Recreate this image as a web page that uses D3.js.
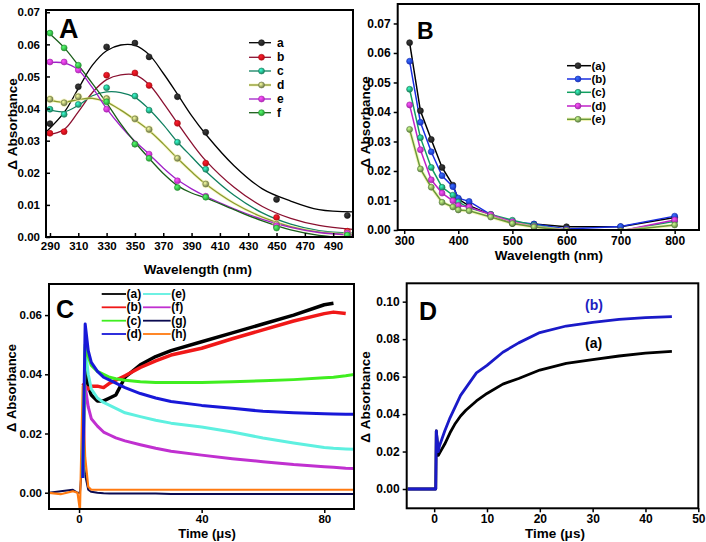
<!DOCTYPE html>
<html><head><meta charset="utf-8">
<script src="https://cdn.jsdelivr.net/npm/d3@7"></script>
<style>
body{margin:0;background:#fff}
text{font-family:"Liberation Sans",Arial,sans-serif;font-weight:bold;fill:#000}
</style>
</head><body>
<svg id="chart" width="706" height="542"></svg>
<script>
// ---------------- Panel A data ----------------
const aWl = [290,300,310,330,350,360,380,400,450,500];
const aPts_a = [0.0353,null,0.0468,0.0592,0.0604,0.0561,0.0437,0.0326,0.0117,0.0067];
const aPts_b = [0.0323,0.0328,null,0.0504,0.0511,0.0472,0.0354,0.0230,0.0061,0.0018];
const aPts_c = [0.0398,0.0382,0.0413,0.0465,0.0439,0.0395,0.0295,0.0211,0.0033,0.0008];
const aPts_d = [0.0429,0.0418,0.0437,0.0431,0.0368,0.0335,0.0245,0.0165,0.0040,0.0010];
const aPts_e = [0.0545,0.0545,0.0520,0.0398,0.0290,0.0258,0.0175,0.0127,0.0035,0.0012];
const aPts_f = [0.0635,0.0589,0.0535,0.0421,0.0289,0.0245,0.0154,0.0124,0.0028,0.0006];
const aFitWl = [288,300,310,320,330,340,350,360,370,380,390,400,420,440,460,480,504];
const aFit_a = [.0330,.0388,.0462,.0535,.0580,.0598,.0597,.0568,.0510,.0445,.0378,.0320,.0222,.0150,.0112,.0085,.0078];
const aFit_b = [.0318,.0335,.0390,.0450,.0490,.0505,.0505,.0475,.0418,.0355,.0293,.0238,.0155,.0095,.0058,.0036,.0024];
const aFit_c = [.0398,.0390,.0410,.0440,.0452,.0450,.0435,.0398,.0350,.0296,.0250,.0205,.0130,.0075,.0040,.0020,.0012];
const aFit_d = [.0428,.0420,.0428,.0432,.0420,.0395,.0365,.0332,.0290,.0245,.0203,.0165,.0105,.0062,.0032,.0015,.0007];
const aFit_e = [.0543,.0542,.0520,.0465,.0400,.0345,.0298,.0258,.0215,.0178,.0150,.0127,.0088,.0055,.0030,.0014,.0006];
const aFit_f = [.0640,.0590,.0535,.0478,.0418,.0352,.0295,.0245,.0198,.0160,.0137,.0122,.0085,.0050,.0022,.0005,-.0003];
const aLabels = ["a","b","c","d","e","f"];
const aXTicks = [290,310,330,350,370,390,410,430,450,470,490];
const aYTicks = [0,0.01,0.02,0.03,0.04,0.05,0.06,0.07];

// ---------------- Panel B data ----------------
const bWl = [310,330,350,370,390,400,420,460,500,540,600,700,800];
const bPts_a = [0.0635,0.0404,0.0307,0.0212,0.0152,0.0105,0.0082,0.0052,0.0022,0.0020,0.0011,0.0011,0.0042];
const bPts_b = [0.0572,0.0365,0.0265,0.0184,0.0147,0.0108,0.0097,0.0052,0.0028,0.0020,0.0003,0.0012,0.0047];
const bPts_c = [0.0477,0.0313,0.0212,0.0145,0.0118,0.0095,0.0075,0.0053,0.0033,0.0016,0.0000,-0.0003,0.0030];
const bPts_d = [0.0424,0.0272,0.0170,0.0125,0.0099,0.0083,0.0078,0.0052,0.0028,0.0012,0.0000,-0.0003,0.0034];
const bPts_e = [0.0341,0.0207,0.0145,0.0094,0.0078,0.0068,0.0065,0.0044,0.0022,0.0010,-0.0002,-0.0003,0.0017];
const bLabels = ["(a)","(b)","(c)","(d)","(e)"];
const bXTicks = [300,400,500,600,700,800];
const bYTicks = [0,0.01,0.02,0.03,0.04,0.05,0.06,0.07];

// ---------------- Panel C data ----------------
const cTimes = [-10,-6,-2,-0.5,0.3,1.2,2,3,4,6,8,10,12,15,20,25,30,40,50,60,70,80,83,87,90];
const cTr_a = [null,null,null,null,null,null,0.042,0.036,0.033,0.031,0.031,0.032,0.033,0.039,0.0432,0.046,0.048,0.051,0.054,0.057,0.060,0.0635,0.064,null,null];
const cTr_b = [null,null,null,null,null,0.037,0.036,0.035,0.036,0.036,0.0355,0.037,0.038,0.0395,0.0423,0.0445,0.0465,0.0488,0.052,0.055,0.058,0.0605,0.061,0.0605,null];
const cTr_c = [null,null,null,null,null,0.005,0.050,0.046,0.043,0.041,0.040,0.039,0.0385,0.038,0.0375,0.0372,0.0372,0.0372,0.0375,0.0378,0.0382,0.0388,0.039,0.0395,0.040];
const cTr_d = [null,null,null,null,null,0.005,0.057,0.048,0.044,0.041,0.039,0.038,0.037,0.0355,0.0335,0.032,0.0308,0.0295,0.0285,0.0275,0.027,0.0267,0.0266,0.0265,0.0265];
const cTr_e = [null,null,null,null,null,0.005,0.049,0.040,0.035,0.032,0.0305,0.0295,0.0285,0.027,0.0257,0.0245,0.0235,0.0222,0.0205,0.0185,0.0168,0.0153,0.015,0.0148,0.0147];
const cTr_f = [null,null,null,null,null,0.005,0.036,0.029,0.025,0.0225,0.0205,0.0195,0.0185,0.0175,0.0162,0.015,0.014,0.0127,0.0115,0.0105,0.0095,0.0088,0.0086,0.0083,0.0082];
const cTr_g = [0.000,0.0005,0.001,0.000,0.000,0.012,0.006,0.001,0.0003,0.000,-0.0002,-0.0003,-0.0003,-0.0003,-0.0003,-0.0003,-0.0004,-0.0004,-0.0004,-0.0004,-0.0004,-0.0004,-0.0004,-0.0004,-0.0004];
const cTr_h = [0.000,-0.0005,0.0005,0.000,-0.006,0.036,0.012,0.002,0.001,0.001,0.001,0.001,0.001,0.001,0.001,0.001,0.001,0.001,0.001,0.001,0.001,0.001,0.001,0.001,0.001];
const cLabels = ["(a)","(b)","(c)","(d)","(e)","(f)","(g)","(h)"];
const cXTicks = [0,40,80];
const cYTicks = [0,0.02,0.04,0.06];

// ---------------- Panel D data ----------------
const dTimes = [-5,-2,0,0.3,0.4,0.8,1,2,3,4,5,6,8,10,13,16,20,25,30,35,40,45];
const dTr_a = [0,0,0,0,0.031,0.018,0.019,0.024,0.030,0.035,0.039,0.042,0.047,0.051,0.056,0.059,0.0635,0.067,0.069,0.071,0.0725,0.0735];
const dTr_b = [0,0,0,0,0.031,0.020,0.023,0.031,0.038,0.044,0.050,0.054,0.062,0.066,0.073,0.078,0.0835,0.087,0.089,0.0905,0.0915,0.092];
const dLabels = ["(a)","(b)"];
const dXTicks = [0,10,20,30,40,50];
const dYTicks = [0,0.02,0.04,0.06,0.08,0.10];

// ---------------- Drawing ----------------
const svg = d3.select("#chart");
svg.append("rect").attr("width",706).attr("height",542).attr("fill","#fff");
const defs = svg.append("defs");
let gradN = 0;
function ball(color){
  const id = "g"+(gradN++);
  const gr = defs.append("radialGradient").attr("id",id).attr("cx","38%").attr("cy","35%").attr("r","65%");
  gr.append("stop").attr("offset","0%").attr("stop-color",d3.color(color).brighter(1.6));
  gr.append("stop").attr("offset","100%").attr("stop-color",d3.color(color).darker(0.6));
  return `url(#${id})`;
}

function panel(o){
  const x = d3.scaleLinear().domain(o.xd).range([o.l,o.r]);
  const y = d3.scaleLinear().domain(o.yd).range([o.b,o.t]);
  const cid = "clip"+o.name;
  defs.append("clipPath").attr("id",cid).append("rect")
    .attr("x",o.l).attr("y",o.t).attr("width",o.r-o.l).attr("height",o.b-o.t);
  const g = svg.append("g");
  const plot = g.append("g").attr("clip-path",`url(#${cid})`);
  const xa = g.append("g").attr("transform",`translate(0,${o.b})`)
    .call(d3.axisBottom(x).tickValues(o.xt).tickSize(o.ts).tickPadding(o.xpad).tickFormat(d3.format("d")));
  const ya = g.append("g").attr("transform",`translate(${o.l},0)`)
    .call(d3.axisLeft(y).tickValues(o.yt).tickSize(o.ts).tickPadding(o.ypad).tickFormat(d3.format(".2f")));
  [xa,ya].forEach(a=>{
    a.select(".domain").remove();
    a.selectAll("line").attr("stroke","#000").attr("stroke-width",1.5);
    a.selectAll("text").style("font-size",o.fs+"px").style("font-weight","bold")
      .style("font-family",'"Liberation Sans",Arial,sans-serif').attr("fill","#000");
  });
  g.append("rect").attr("x",o.l).attr("y",o.t).attr("width",o.r-o.l).attr("height",o.b-o.t)
    .attr("fill","none").attr("stroke","#000").attr("stroke-width",2);
  g.append("text").attr("transform",`translate(${o.ytx},${o.yty}) rotate(-90)`)
    .attr("text-anchor","middle").style("font-size",o.tfs+"px").text("\u0394 Absorbance");
  g.append("text").attr("x",o.xtx).attr("y",o.xty).attr("text-anchor","middle")
    .style("font-size",o.tfs+"px").text(o.xtitle);
  g.append("text").attr("x",o.lx).attr("y",o.ly).style("font-size",o.lfs+"px").text(o.name);
  return {x,y,plot,g};
}

// ===== Panel A =====
const A = panel({name:"A",l:46,r:353,t:10,b:237,xd:[287.2,504],yd:[0,0.0707],xt:aXTicks,yt:aYTicks,
  ts:-4,xpad:5,ypad:6,fs:11.5,tfs:13.5,ytx:16.5,yty:124,xtx:198,xty:273.5,xtitle:"Wavelength (nm)",lx:59,ly:38,lfs:27});
const aPts = [aPts_a,aPts_b,aPts_c,aPts_d,aPts_e,aPts_f];
const aFits = [aFit_a,aFit_b,aFit_c,aFit_d,aFit_e,aFit_f];
const aDot = ["#222","#e8101a","#20a878","#8c9a5a","#e030e8","#30c040"];
const aLine = ["#000","#8a1030","#108060","#8a9a30","#a020c8","#1a5e1a"];
const aGlow = [null,null,null,"#f4f29a",null,null];
const lineA = d3.line().x(d=>A.x(d[0])).y(d=>A.y(d[1])).curve(d3.curveCatmullRom.alpha(0.5));
aFits.forEach((f,i)=>{
  const pts = aFitWl.map((w,j)=>[w,f[j]]);
  if(aGlow[i]) A.plot.append("path").attr("d",lineA(pts)).attr("fill","none").attr("stroke",aGlow[i]).attr("stroke-width",3).attr("opacity",0.55);
  A.plot.append("path").attr("d",lineA(pts)).attr("fill","none").attr("stroke",aLine[i]).attr("stroke-width",1.3);
});
aPts.forEach((p,i)=>{
  const fill = ball(aDot[i]);
  aWl.forEach((w,j)=>{
    if(p[j]==null) return;
    if(aGlow[i]) A.plot.append("circle").attr("cx",A.x(w)).attr("cy",A.y(p[j])).attr("r",4.2).attr("fill",aGlow[i]).attr("opacity",0.55);
    A.plot.append("circle").attr("cx",A.x(w)).attr("cy",A.y(p[j])).attr("r",3).attr("fill",fill)
      .attr("stroke",d3.color(aDot[i]).darker(0.8)).attr("stroke-width",0.6);
  });
});
const aLegY = [42.7,57.3,71,85,99,112.7];
aLabels.forEach((lab,i)=>{
  const gl = A.g.append("g");
  if(aGlow[i]) gl.append("line").attr("x1",249).attr("x2",271).attr("y1",aLegY[i]).attr("y2",aLegY[i]).attr("stroke",aGlow[i]).attr("stroke-width",3).attr("opacity",0.55);
  gl.append("line").attr("x1",249).attr("x2",271).attr("y1",aLegY[i]).attr("y2",aLegY[i]).attr("stroke",aLine[i]).attr("stroke-width",1.3);
  gl.append("circle").attr("cx",261.5).attr("cy",aLegY[i]).attr("r",3).attr("fill",ball(aDot[i])).attr("stroke",d3.color(aDot[i]).darker(0.8)).attr("stroke-width",0.6);
  gl.append("text").attr("x",277).attr("y",aLegY[i]+4).style("font-size","12px").text(lab);
});

// ===== Panel B =====
const B = panel({name:"B",l:397.7,r:699,t:4,b:230,xd:[288,845],yd:[0,0.0766],xt:bXTicks,yt:bYTicks,
  ts:4,xpad:2,ypad:3,fs:12,tfs:13.5,ytx:370,yty:122,xtx:549,xty:259.5,xtitle:"Wavelength (nm)",lx:417,ly:38.5,lfs:23});
const bPts = [bPts_a,bPts_b,bPts_c,bPts_d,bPts_e];
const bDot = ["#222","#1f3ff0","#20a070","#d030d8","#74a050"];
const bLine = ["#000","#1a2ee0","#10a060","#c020c8","#6a9a3a"];
const bGlow = [null,null,null,null,"#f0f290"];
const lineB = d3.line().x(d=>B.x(d[0])).y(d=>B.y(d[1]));
bPts.forEach((p,i)=>{
  const pts = bWl.map((w,j)=>[w,p[j]]);
  if(bGlow[i]) B.plot.append("path").attr("d",lineB(pts)).attr("fill","none").attr("stroke",bGlow[i]).attr("stroke-width",3.5).attr("opacity",0.6);
  B.plot.append("path").attr("d",lineB(pts)).attr("fill","none").attr("stroke",bLine[i]).attr("stroke-width",1.5);
});
bPts.forEach((p,i)=>{
  const fill = ball(bDot[i]);
  bWl.forEach((w,j)=>{
    B.plot.append("circle").attr("cx",B.x(w)).attr("cy",B.y(p[j])).attr("r",3).attr("fill",fill)
      .attr("stroke",d3.color(bDot[i]).darker(0.8)).attr("stroke-width",0.6);
  });
});
const bLegY = [65.7,79,92.3,106,119.3];
bLabels.forEach((lab,i)=>{
  const gl = B.g.append("g");
  if(bGlow[i]) gl.append("line").attr("x1",567).attr("x2",591).attr("y1",bLegY[i]).attr("y2",bLegY[i]).attr("stroke",bGlow[i]).attr("stroke-width",3.5).attr("opacity",0.6);
  gl.append("line").attr("x1",567).attr("x2",591).attr("y1",bLegY[i]).attr("y2",bLegY[i]).attr("stroke",bLine[i]).attr("stroke-width",1.5);
  gl.append("circle").attr("cx",578).attr("cy",bLegY[i]).attr("r",3).attr("fill",ball(bDot[i])).attr("stroke",d3.color(bDot[i]).darker(0.8)).attr("stroke-width",0.6);
  gl.append("text").attr("x",591.5).attr("y",bLegY[i]+4).style("font-size","11.5px").text(lab);
});

// ===== Panel C =====
const C = panel({name:"C",l:49,r:354,t:284,b:509,xd:[-9.8,89.7],yd:[-0.0055,0.0705],xt:cXTicks,yt:cYTicks,
  ts:4,xpad:1.5,ypad:3,fs:11.5,tfs:13,ytx:15.5,yty:388,xtx:207,xty:537.5,xtitle:"Time (\u03bcs)",lx:56,ly:318,lfs:25});
const cTr = [cTr_a,cTr_b,cTr_c,cTr_d,cTr_e,cTr_f,cTr_g,cTr_h];
const cCol = ["#000","#f01818","#40ee20","#1818d8","#5ef0e0","#c030d0","#0a0a50","#ff7a10"];
const cW = [3.5,3.5,3,3,3,3,2,2.2];
const lineC = d3.line().defined(d=>d[1]!=null).x(d=>C.x(d[0])).y(d=>C.y(d[1]));
[0,1,6,7,5,4,2,3].forEach(i=>{
  const pts = cTimes.map((t,j)=>[t,cTr[i][j]]);
  C.plot.append("path").attr("d",lineC(pts)).attr("fill","none").attr("stroke",cCol[i])
    .attr("stroke-width",cW[i]).attr("stroke-linejoin","round");
});
const cLegY = [294,307.3,320.7,334];
cLabels.forEach((lab,i)=>{
  const col = Math.floor(i/4), row = i%4;
  const x1 = col===0?101.7:143, x2 = col===0?126:170.7;
  C.g.append("line").attr("x1",x1).attr("x2",x2).attr("y1",cLegY[row]).attr("y2",cLegY[row]).attr("stroke",cCol[i]).attr("stroke-width",1.8);
  C.g.append("text").attr("x",x2+0.5).attr("y",cLegY[row]+4).style("font-size","12px").text(lab);
});

// ===== Panel D =====
const D = panel({name:"D",l:406.7,r:698.3,t:283.3,b:508.3,xd:[-5.2,50],yd:[-0.0103,0.1098],xt:dXTicks,yt:dYTicks,
  ts:4,xpad:2,ypad:3,fs:12,tfs:13.5,ytx:369.5,yty:397,xtx:555,xty:537.5,xtitle:"Time (\u03bcs)",lx:419,ly:320,lfs:25});
const dTr = [dTr_a,dTr_b];
const dCol = ["#000","#1a1ac8"];
const lineD = d3.line().x(d=>D.x(d[0])).y(d=>D.y(d[1]));
dTr.forEach((tr,i)=>{
  const pts = dTimes.map((t,j)=>[t,tr[j]]);
  D.plot.append("path").attr("d",lineD(pts)).attr("fill","none").attr("stroke",dCol[i]).attr("stroke-width",2.8).attr("stroke-linejoin","round");
});
D.g.append("text").attr("x",585).attr("y",310).style("font-size","14px").style("fill","#2020c0").text(dLabels[1]);
D.g.append("text").attr("x",585).attr("y",348).style("font-size","14px").text(dLabels[0]);
</script>
</body></html>
